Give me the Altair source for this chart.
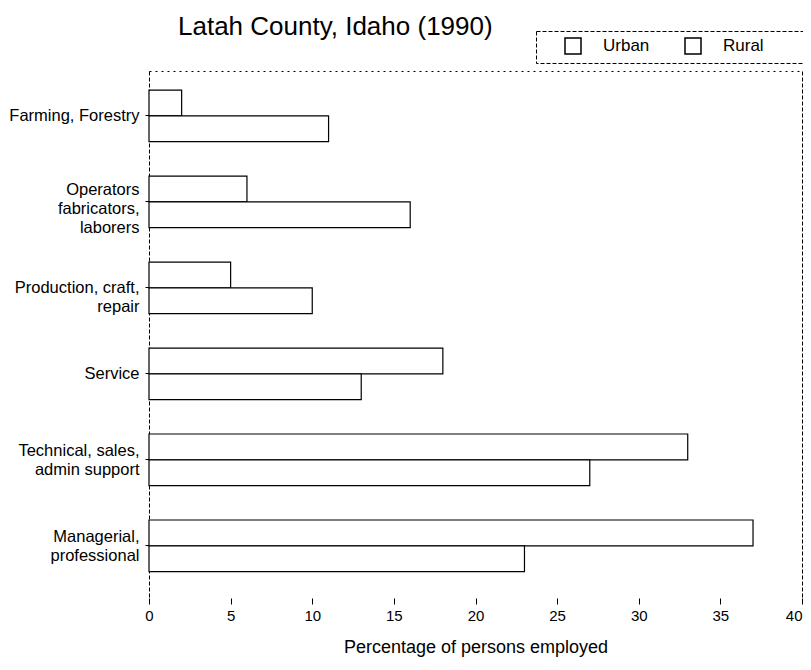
import altair as alt
import pandas as pd

categories = [
    "Farming, Forestry",
    "Operators, fabricators, laborers",
    "Production, craft, repair",
    "Service",
    "Technical, sales, admin support",
    "Managerial, professional",
]
label_lines = {
    "Farming, Forestry": ["Farming, Forestry"],
    "Operators, fabricators, laborers": ["Operators", "fabricators,", "laborers"],
    "Production, craft, repair": ["Production, craft,", "repair"],
    "Service": ["Service"],
    "Technical, sales, admin support": ["Technical, sales,", "admin  support"],
    "Managerial, professional": ["Managerial,", "professional"],
}
# vertical shift of each multi-line label (as placed in the original)
label_shift = {
    "Operators, fabricators, laborers": -12,
    "Technical, sales, admin support": -9,
    "Managerial, professional": -9,
}
areas = ["Urban", "Rural"]
urban = [2, 6, 5, 18, 33, 37]
rural = [11, 16, 10, 13, 27, 23]
x_ticks = [0, 5, 10, 15, 20, 25, 30, 35, 40]

rows = []
for c, u, r in zip(categories, urban, rural):
    rows.append({"category": c, "area": "Urban", "value": u})
    rows.append({"category": c, "area": "Rural", "value": r})
df = pd.DataFrame(rows)

def js_list(items):
    return "[" + ",".join("'" + s + "'" for s in items) + "]"

expr = ""
for k, v in label_lines.items():
    expr += f"datum.value == '{k}' ? {js_list(v)} : "
expr += "datum.label"

label_offset = {
    "condition": [{"test": f"datum.value == '{k}'", "value": v} for k, v in label_shift.items()],
    "value": 0,
}
x_label_align = {
    "condition": {"test": f"datum.value == {x_ticks[-1]}", "value": "right"},
    "value": "center",
}

FONT = "Liberation Sans"
yscale = alt.Scale(domain=categories, paddingInner=0.4, paddingOuter=0.265, align=0.42)
xscale = alt.Scale(domain=[0, 40], nice=False, zero=True)

bars = alt.Chart(df).mark_bar(stroke="black", strokeWidth=1.2).encode(
    x=alt.X("value:Q", scale=xscale,
            axis=alt.Axis(values=x_ticks, domain=False, grid=False, tickColor="black",
                          tickSize=6, labelFont=FONT, labelFontSize=15, labelColor="black",
                          labelPadding=4, labelFlush=False, labelAlign=x_label_align,
                          title="Percentage of persons employed",
                          titleFont=FONT, titleFontSize=18, titleFontWeight="normal",
                          titleColor="black", titlePadding=15)),
    y=alt.Y("category:N", scale=yscale, sort=categories,
            axis=alt.Axis(title=None, labelExpr=expr, labelOffset=label_offset,
                          domain=True, domainColor="black",
                          domainDash=[4, 2], tickColor="black", tickSize=4,
                          labelFont=FONT, labelFontSize=16.5, labelColor="black",
                          labelLineHeight=19, labelPadding=6, labelLimit=300)),
    yOffset=alt.YOffset("area:N", sort=areas, scale=alt.Scale(domain=areas, paddingInner=0)),
    color=alt.Color("area:N", sort=areas,
                    scale=alt.Scale(domain=areas, range=["white", "white"]),
                    legend=alt.Legend(title=".", titleOrient="right", titlePadding=35,
                                      titleOpacity=0, titleFontSize=12,
                                      orient="none", legendX=387, legendY=-40,
                                      direction="horizontal", symbolType="square",
                                      symbolSize=256, symbolStrokeColor="black",
                                      symbolStrokeWidth=1.5, symbolOffset=22,
                                      labelOffset=21, columnPadding=12,
                                      labelFont=FONT, labelFontSize=17, labelColor="black",
                                      strokeColor="black", padding=6)),
)

frame = alt.Chart(df).mark_bar(opacity=0).encode(
    x=alt.X("value:Q", scale=xscale,
            axis=alt.Axis(orient="top", labels=False, ticks=False, title=None, grid=False,
                          domain=True, domainColor="black", domainDash=[2, 4])),
    y=alt.Y("category:N", scale=yscale, sort=categories,
            axis=alt.Axis(orient="right", labels=False, ticks=False, title=None, grid=False,
                          domain=True, domainColor="black", domainDash=[4, 2])),
)

chart = alt.layer(bars, frame).resolve_axis(x="independent", y="independent").properties(
    width=653,
    height=527,
    autosize=alt.AutoSizeParams(type="none"),
    padding={"left": 141, "top": 63, "right": 1, "bottom": 60},
    title=alt.TitleParams("Latah County, Idaho (1990)", anchor="start", frame="group", dx=29,
                          fontSize=26, font=FONT, fontWeight="normal", color="black",
                          baseline="alphabetic", offset=0, dy=30),
).configure_view(stroke=None).configure_legend(strokeDash=[4, 2])

chart.save("out.html", embed_options={"renderer": "svg", "actions": False})
